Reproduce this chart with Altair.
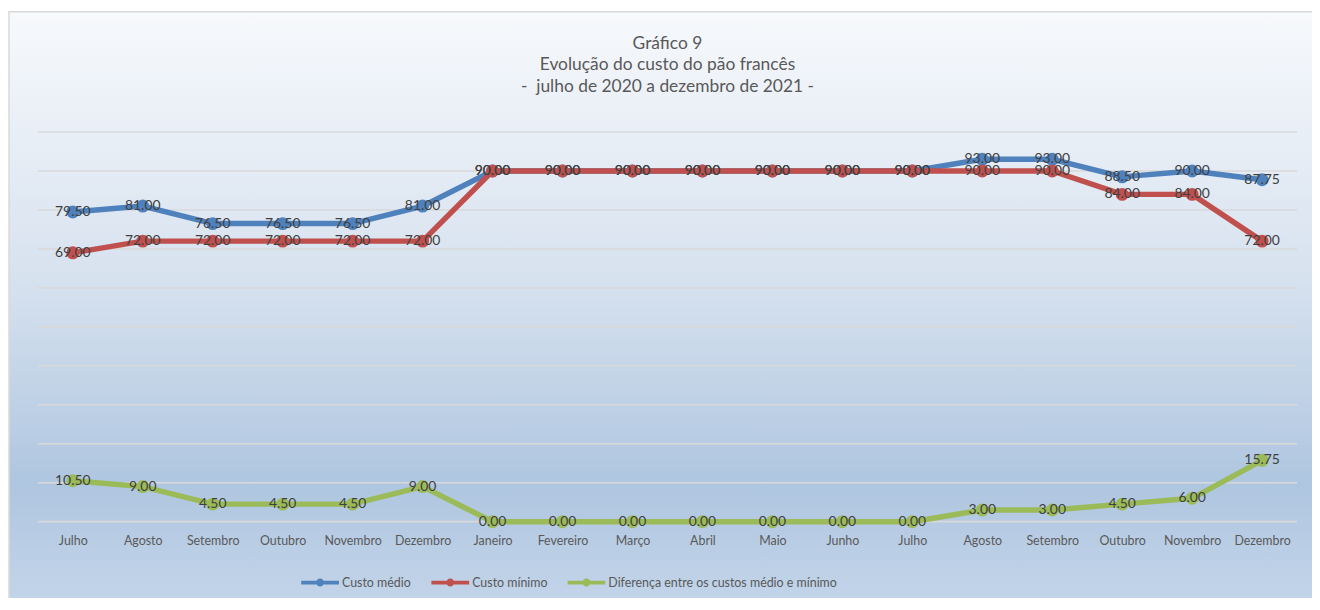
import altair as alt
import pandas as pd

months = ["Julho", "Agosto", "Setembro", "Outubro", "Novembro", "Dezembro",
          "Janeiro", "Fevereiro", "Março", "Abril", "Maio", "Junho",
          "Julho", "Agosto", "Setembro", "Outubro", "Novembro", "Dezembro"]
series_names = ["Custo médio", "Custo mínimo", "Diferença entre os custos médio e mínimo"]
custo_medio = [79.50, 81.00, 76.50, 76.50, 76.50, 81.00, 90.00, 90.00, 90.00,
               90.00, 90.00, 90.00, 90.00, 93.00, 93.00, 88.50, 90.00, 87.75]
custo_minimo = [69.00, 72.00, 72.00, 72.00, 72.00, 72.00, 90.00, 90.00, 90.00,
                90.00, 90.00, 90.00, 90.00, 90.00, 90.00, 84.00, 84.00, 72.00]
diferenca = [10.50, 9.00, 4.50, 4.50, 4.50, 9.00, 0.00, 0.00, 0.00,
             0.00, 0.00, 0.00, 0.00, 3.00, 3.00, 4.50, 6.00, 15.75]
grid_values = [0, 10, 20, 30, 40, 50, 60, 70, 80, 90, 100]
title_lines = ["Gráfico 9", "Evolução do custo do pão francês",
               "- \u00a0julho de 2020 a dezembro de 2021 -"]
colors = ["#4F81BD", "#C0504D", "#9BBB59"]

rows = []
for name, vals in zip(series_names, [custo_medio, custo_minimo, diferenca]):
    for i, v in enumerate(vals):
        rows.append({"idx": i, "serie": name, "valor": v})
df = pd.DataFrame(rows)

FONT = "Lato"
W, H = 1267, 392
PAD = {"left": 30, "top": 123, "right": 15, "bottom": 75}

label_expr = "[" + ",".join("'" + m + "'" for m in months) + "][datum.value]"

x = alt.X("idx:O", scale=alt.Scale(type="point", padding=0.5),
          axis=alt.Axis(title=None, labelExpr=label_expr, labelAngle=0, ticks=False,
                        domain=False, grid=False, labelFont=FONT, labelFontSize=12.5,
                        labelColor="#595959", labelPadding=13, zindex=2))
yscale = alt.Scale(domain=[0, 100], nice=False)
y = alt.Y("valor:Q", scale=yscale, axis=None)

legend_symbol = ("M-1,-0.1 L1,-0.1 L1,0.1 L-1,0.1 Z "
                 "M0.21,0 A0.21,0.21 0 1,1 -0.21,0 A0.21,0.21 0 1,1 0.21,0 Z")

legend_def = alt.Legend(title=None, orient="none", direction="horizontal",
                        legendX=265, legendY=434, symbolType=legend_symbol,
                        symbolSize=1444, symbolStrokeWidth=0,
                        symbolOpacity=1, zindex=2,
                        labelFont=FONT, labelFontSize=12.5,
                        labelColor="#595959", labelLimit=400,
                        labelOffset=3, columnPadding=20)

stroke_enc = alt.Stroke("serie:N", scale=alt.Scale(domain=series_names, range=colors),
                        legend=legend_def)
fill_enc = alt.Fill("serie:N", scale=alt.Scale(domain=series_names, range=colors),
                    legend=legend_def)

bg = alt.Chart(alt.Data(values=[{"a": 1}])).mark_rect(
    color=alt.Gradient(gradient="linear", x1=0, y1=0, x2=0, y2=1,
                       stops=[alt.GradientStop(color="#f7f9fc", offset=0),
                              alt.GradientStop(color="#d7e2ef", offset=0.45),
                              alt.GradientStop(color="#afc6e0", offset=0.8),
                              alt.GradientStop(color="#c2d4e9", offset=1)]),
    stroke="#d9d9d9", strokeWidth=1.5
).encode(x=alt.value(-29), x2=alt.value(W + 20), y=alt.value(-121), y2=alt.value(H + 80))

title = alt.Chart(alt.Data(values=[{"a": 1}])).mark_text(
    font=FONT, fontSize=17.5, color="#595959", align="center", baseline="top",
    lineHeight=22, lineBreak="\n"
).encode(x=alt.value(W / 2), y=alt.value(-98), text=alt.value("\n".join(title_lines)))

grid = alt.Chart(pd.DataFrame({"g": grid_values})).mark_rule(
    color="#d9d9d9", strokeWidth=1.6
).encode(y=alt.Y("g:Q", scale=yscale, axis=None), x=alt.value(0), x2=alt.value(W))

base = alt.Chart(df)
lines = base.mark_line(strokeWidth=5.5).encode(x=x, y=y, stroke=stroke_enc)
points = base.mark_circle(size=170, opacity=1, strokeWidth=0).encode(x=x, y=y, fill=fill_enc)
labels = base.mark_text(font=FONT, fontSize=14, color="#404040", align="center",
                        baseline="middle").encode(
    x=x, y=y, text=alt.Text("valor:Q", format=".2f"))

chart = alt.layer(bg, title, grid, lines, points, labels).properties(
    width=W, height=H,
    autosize=alt.AutoSizeParams(type="none"),
    padding=PAD,
).configure_view(stroke=None).configure(background="white")

chart.save("out.html", embed_options={"renderer": "svg", "actions": False})
